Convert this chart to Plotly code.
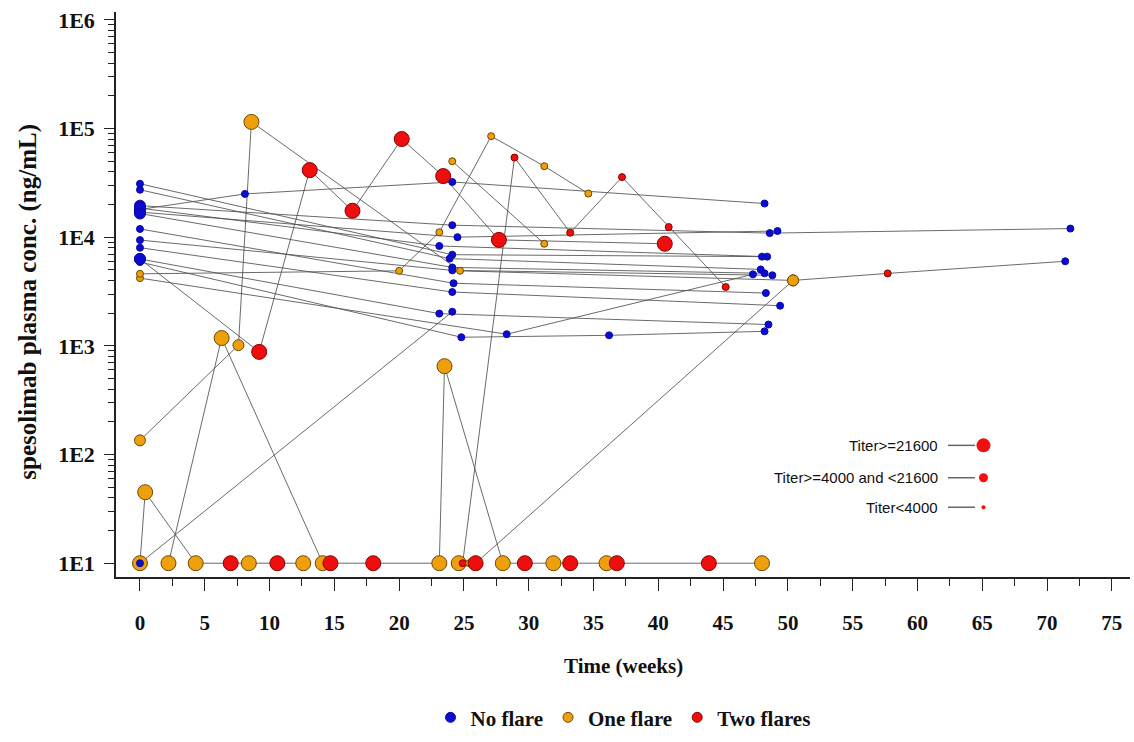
import plotly.graph_objects as go

# ---------------- data ----------------
# Each patient: weeks, concentration (ng/mL), flare group per point (0=no,1=one,2=two),
# titer class per point (0: <4000, 1: >=4000 and <21600, 2: >=21600)
patients = [
    # no-flare patients
    dict(w=[0, 24.1, 48.0], c=[31000, 6900, 6620], g=[0, 0, 0], t=[0, 0, 0]),
    dict(w=[0, 23.9, 47.9], c=[27300, 6350, 5050], g=[0, 0, 0], t=[0, 0, 0]),
    dict(w=[0, 8.1, 24.1, 48.2], c=[18000, 25000, 32200, 20400], g=[0, 0, 0, 0], t=[1, 0, 0, 0]),
    dict(w=[0, 24.1, 48.6, 71.8], c=[19500, 12900, 10900, 12000], g=[0, 0, 0, 0], t=[1, 0, 0, 0]),
    dict(w=[0, 24.5, 49.2], c=[17000, 10000, 11400], g=[0, 0, 0], t=[1, 0, 0]),
    dict(w=[0, 23.1, 48.4], c=[18500, 8300, 6620], g=[0, 0, 0], t=[1, 0, 0]),
    dict(w=[0, 24.1, 48.2], c=[16500, 5270, 4650], g=[0, 0, 0], t=[1, 0, 0]),
    dict(w=[0, 24.2, 48.3], c=[11900, 3770, 3060], g=[0, 0, 0], t=[0, 0, 0]),
    dict(w=[0, 24.1, 48.8], c=[9400, 4950, 4460], g=[0, 0, 0], t=[0, 0, 0]),
    dict(w=[0, 24.1, 49.4], c=[8000, 3130, 2340], g=[0, 0, 0], t=[0, 0, 0]),
    dict(w=[0, 23.1, 48.5], c=[6300, 1980, 1570], g=[0, 0, 0], t=[1, 0, 0]),
    dict(w=[0, 24.8, 36.2, 48.2], c=[5900, 1200, 1250, 1360], g=[0, 0, 0, 0], t=[0, 0, 0, 0]),
    dict(w=[0, 28.3, 47.3], c=[4200, 1280, 4550], g=[1, 0, 0], t=[0, 0, 0]),
    # flare patients
    dict(w=[0, 9.2, 13.1, 16.4, 20.2, 23.4, 27.7, 40.5],
         c=[6300, 880, 41400, 17500, 80000, 36500, 9440, 8700],
         g=[0, 2, 2, 2, 2, 2, 2, 2], t=[1, 2, 2, 2, 2, 2, 2, 2]),
    dict(w=[0, 7.6, 8.6, 24.7, 50.4], c=[135, 1015, 115000, 4900, 4000],
         g=[1, 1, 1, 1, 1], t=[1, 1, 2, 0, 1]),
    dict(w=[0, 20.0, 23.1, 27.1, 31.2, 34.6], c=[4600, 4900, 11100, 85000, 45000, 25200],
         g=[1, 1, 1, 1, 1, 1], t=[0, 0, 0, 0, 0, 0]),
    dict(w=[24.1, 31.2], c=[50000, 8700], g=[1, 1], t=[0, 0]),
    dict(w=[0, 0.4, 4.3, 7.0, 8.4, 10.6, 12.6], c=[10, 45, 10, 10, 10, 10, 10],
         g=[1, 1, 1, 2, 1, 2, 1], t=[2, 2, 2, 2, 2, 2, 2]),
    dict(w=[2.2, 6.3, 14.1, 14.7, 18.0, 23.1, 23.5, 28.0, 29.7, 31.9, 33.2, 36.0, 36.8, 43.9, 48.0],
         c=[10, 1180, 10, 10, 10, 10, 650, 10, 10, 10, 10, 10, 10, 10, 10],
         g=[1, 1, 1, 2, 2, 1, 1, 1, 2, 1, 2, 1, 2, 2, 1], t=[2] * 15),
    dict(w=[24.6, 24.9, 28.9, 33.2, 37.2, 40.8, 45.2], c=[10, 10, 54000, 11000, 35700, 12400, 3480],
         g=[1, 2, 2, 2, 2, 2, 2], t=[2, 0, 0, 0, 0, 0, 0]),
    dict(w=[25.4, 25.9, 50.4, 57.7, 71.4], c=[10, 10, 4000, 4640, 6000],
         g=[1, 2, 1, 2, 0], t=[0, 2, 1, 0, 0]),
    dict(w=[0, 24.1], c=[10, 2060], g=[0, 0], t=[0, 0]),
]

group_names = ["No flare", "One flare", "Two flares"]
titer_labels = ["Titer>=21600", "Titer>=4000 and <21600", "Titer<4000"]
y_tick_vals = [10, 100, 1000, 10000, 100000, 1000000]
y_tick_text = ["1E1", "1E2", "1E3", "1E4", "1E5", "1E6"]
x_tick_vals = list(range(0, 80, 5))

# ---------------- style ----------------
fill = ["#0c0cd0", "#eea00c", "#ee0e0e"]
edge = ["#0a0aa8", "#6e4800", "#8a0000"]
size_by_titer = [7, 11, 15]
legend_dot_sizes = [14, 9, 4]
serif = "Liberation Serif"

fig = go.Figure()

# lines first
for p in patients:
    fig.add_trace(go.Scatter(x=p["w"], y=p["c"], mode="lines",
                             line=dict(color="rgba(80,80,80,0.85)", width=1),
                             showlegend=False, hoverinfo="skip"))
# markers on top
for p in patients:
    fig.add_trace(go.Scatter(
        x=p["w"], y=p["c"], mode="markers", showlegend=False,
        marker=dict(color=[fill[g] for g in p["g"]], opacity=1,
                    size=[size_by_titer[t] for t in p["t"]],
                    line=dict(color=[edge[g] for g in p["g"]], width=1))))

# group legend (dummy traces)
for i, name in enumerate(group_names):
    fig.add_trace(go.Scatter(x=[None], y=[None], mode="markers", name=name,
                             marker=dict(color=fill[i], size=10, opacity=1,
                                         line=dict(color=edge[i], width=1))))

# titer key drawn on an overlay axis spanning [0,1]
key_y = [0.233, 0.1757, 0.1235]
for i, lab in enumerate(titer_labels):
    fig.add_trace(go.Scatter(x=[0.8205, 0.8471], y=[key_y[i], key_y[i]], mode="lines",
                             line=dict(color="#666666", width=1.5),
                             xaxis="x2", yaxis="y2", showlegend=False, hoverinfo="skip"))
    fig.add_trace(go.Scatter(x=[0.8555], y=[key_y[i]], mode="markers",
                             marker=dict(color="#f01010", size=legend_dot_sizes[i], opacity=1),
                             xaxis="x2", yaxis="y2", showlegend=False, hoverinfo="skip"))
    fig.add_annotation(x=0.8126, y=key_y[i], xref="paper", yref="paper", text=lab,
                       showarrow=False, xanchor="right", yanchor="middle",
                       font=dict(family="Liberation Sans", size=15, color="#111"))

# minor ticks on log axis
minor_vals = [m * 10 ** k for k in range(1, 6) for m in range(2, 10)]

fig.update_layout(
    width=1134, height=742,
    margin=dict(l=116, r=4, t=12, b=155),
    plot_bgcolor="white", paper_bgcolor="white",
    showlegend=True,
    legend=dict(orientation="h", x=0.5, xanchor="center", y=-0.249, yanchor="middle",
                font=dict(family=serif, size=21, color="#111", weight="bold"),
                itemwidth=30, tracegroupgap=0),
    xaxis=dict(range=[-1.85, 76.4], tickmode="array", tickvals=x_tick_vals,
               showgrid=False, zeroline=False, showline=True, linecolor="#222", linewidth=1.5,
               ticks="outside", ticklen=12, tickwidth=1.2, tickcolor="#222",
               ticklabelstandoff=14,
               tickfont=dict(family=serif, size=21, color="#111", weight="bold"),
               minor=dict(tickmode="array", tickvals=[x + 2.5 for x in x_tick_vals],
                          ticks="outside", ticklen=7, tickwidth=1, tickcolor="#222")),
    yaxis=dict(type="log", range=[0.873, 6.072], tickmode="array",
               tickvals=y_tick_vals, ticktext=y_tick_text,
               showgrid=False, zeroline=False, showline=True, linecolor="#222", linewidth=1.5,
               ticks="outside", ticklen=10, tickwidth=1.2, tickcolor="#222",
               ticklabelstandoff=5,
               tickfont=dict(family=serif, size=22, color="#111", weight="bold"),
               minor=dict(tickmode="array", tickvals=minor_vals, ticks="outside",
                          ticklen=6, tickwidth=1, tickcolor="#222")),
    xaxis2=dict(overlaying="x", range=[0, 1], visible=False),
    yaxis2=dict(overlaying="y", range=[0, 1], visible=False),
    annotations=list(fig.layout.annotations) + [
        dict(text="<b>Time (weeks)</b>", x=0.5, y=-0.157, xref="paper", yref="paper",
             showarrow=False, xanchor="center", yanchor="middle",
             font=dict(family=serif, size=21, color="#111")),
        dict(text="<b>spesolimab plasma conc. (ng/mL)</b>", x=-0.087, y=0.487,
             xref="paper", yref="paper", textangle=-90, showarrow=False,
             xanchor="center", yanchor="middle",
             font=dict(family=serif, size=25, color="#111")),
    ],
)

fig.write_html("out.html")
